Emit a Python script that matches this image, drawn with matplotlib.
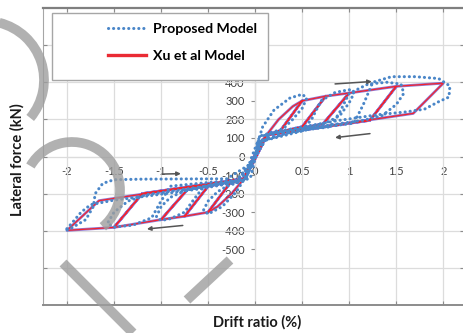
import numpy as np
import matplotlib
matplotlib.use('Agg')
import matplotlib.pyplot as plt
from matplotlib.patches import Arc, Rectangle

plt.rcParams['font.family'] = ['Lato', 'DejaVu Sans']

# Xu et al model, one list per cycle (drift %, force kN)
xu_d1 = [0, 0.05, 0.12, 0.25, 0.4, 0.5, 0.27, 0.12, 0.03, -0.05, -0.12, -0.25, -0.4, -0.5, -0.27, -0.12, -0.03, 0.05, 0.12]
xu_f1 = [0, 70, 115, 200, 270, 300, 140, 115, 40, -40, -120, -200, -270, -300, -145, -120, -40, 40, 115]
xu_d2 = [0.12, 0.27, 0.5, 0.75, 0.5, 0.12, 0.03, -0.05, -0.12, -0.27, -0.5, -0.75, -0.5, -0.12, -0.03, 0.05, 0.12]
xu_f2 = [115, 140, 300, 325, 160, 115, 40, -40, -120, -145, -300, -322, -160, -120, -40, 40, 115]
xu_d3 = [0.12, 0.5, 0.75, 1.0, 0.72, 0.12, 0.03, -0.05, -0.12, -0.5, -0.75, -1.0, -0.72, -0.12, -0.03, 0.05, 0.12]
xu_f3 = [115, 160, 325, 342, 175, 115, 40, -40, -120, -160, -322, -340, -178, -120, -40, 40, 115]
xu_d4 = [0.12, 0.72, 1.0, 1.5, 1.22, 0.12, 0.03, -0.05, -0.12, -0.72, -1.0, -1.5, -1.2, -0.12, -0.03, 0.05, 0.12]
xu_f4 = [115, 175, 342, 378, 195, 115, 40, -40, -120, -178, -340, -382, -200, -120, -40, 40, 115]
xu_d5 = [0.12, 1.22, 1.5, 2.0, 1.68, 0.12, 0.03, -0.05, -0.12, -1.2, -1.5, -2.0, -1.66, -0.12, -0.03, 0.0]
xu_f5 = [115, 195, 378, 395, 232, 115, 40, -40, -120, -200, -382, -398, -238, -120, -40, 0]

# Proposed model, one list per cycle
pm_d1 = [0, 0.03, 0.08, 0.2, 0.37, 0.5, 0.55, 0.5, 0.4, 0.3, 0.15, 0.05, -0.05, -0.1, -0.2, -0.35, -0.5, -0.55, -0.5, -0.4, -0.3, -0.15, -0.05, 0.02]
pm_f1 = [0, 80, 160, 250, 315, 335, 315, 260, 200, 150, 125, 110, -20, -110, -190, -270, -310, -290, -240, -190, -160, -135, -115, 30]
pm_d2 = [0.05, 0.3, 0.5, 0.6, 0.7, 0.85, 1.0, 1.05, 1.0, 0.9, 0.75, 0.5, 0.25, 0.1, -0.05, -0.15, -0.35, -0.55, -0.65, -0.75, -0.9, -1.0, -1.05, -1.0, -0.9, -0.75, -0.5, -0.25, -0.1, 0.02]
pm_f2 = [80, 125, 140, 200, 300, 345, 360, 340, 290, 220, 180, 150, 130, 115, -40, -125, -145, -165, -230, -300, -335, -345, -325, -270, -220, -185, -155, -135, -120, 30]
pm_d3 = [0.05, 0.4, 0.8, 0.9, 1.0, 1.2, 1.4, 1.55, 1.58, 1.5, 1.35, 1.15, 0.8, 0.4, 0.15, -0.05, -0.2, -0.5, -0.9, -1.0, -1.1, -1.3, -1.5, -1.57, -1.5, -1.35, -1.15, -0.8, -0.4, -0.1, 0.02]
pm_f3 = [80, 135, 160, 240, 340, 390, 400, 390, 340, 280, 220, 195, 170, 140, 120, -40, -130, -140, -160, -240, -330, -370, -380, -360, -300, -240, -205, -180, -150, -125, 30]
pm_d4 = [0.05, 0.6, 1.05, 1.15, 1.25, 1.45, 1.7, 1.95, 2.07, 2.06, 1.95, 1.8, 1.6, 1.3, 0.9, 0.4, 0.15, -0.05, -0.3, -0.8, -1.2, -1.5, -1.62, -1.7, -1.72, -1.8, -1.95, -2.02, -1.95, -1.85, -1.75, -1.5, -1.1, -0.6, -0.2, 0.0]
pm_f4 = [80, 150, 180, 280, 400, 430, 430, 420, 380, 320, 295, 255, 240, 225, 195, 150, 125, -40, -120, -121, -122, -125, -145, -200, -270, -340, -385, -400, -360, -300, -260, -235, -210, -175, -140, 0]

x_ticks = [-2, -1.5, -1, -0.5, 0, 0.5, 1, 1.5, 2]
x_labels = ['-2', '-1.5', '-1', '-0.5', '0', '0.5', '1', '1.5', '2']
y_ticks = [-500, -400, -300, -200, -100, 0, 100, 200, 300, 400]
frame_y = [-600, -400, -200, 0, 200, 400, 600]

xu_d = xu_d1 + xu_d2 + xu_d3 + xu_d4 + xu_d5
xu_f = xu_f1 + xu_f2 + xu_f3 + xu_f4 + xu_f5
pm_d = pm_d1 + pm_d2 + pm_d3 + pm_d4
pm_f = pm_f1 + pm_f2 + pm_f3 + pm_f4

W, H = 463, 333
fig = plt.figure(figsize=(W / 100, H / 100), dpi=100)
rect = [43 / W, 1 - 305 / H, (464 - 43) / W, (305 - 8) / H]

# inner excel-style axes crossing at origin
ax2 = fig.add_axes(rect, zorder=0)
ax2.set_xlim(-2.255, 2.22)
ax2.set_ylim(-800, 800)
for s in ['top', 'right']:
    ax2.spines[s].set_visible(False)
ax2.spines['left'].set_position(('data', 0))
ax2.spines['left'].set_bounds(-500, 400)
ax2.spines['left'].set_color('#8c8c8c')
ax2.spines['bottom'].set_position(('data', 0))
ax2.spines['bottom'].set_bounds(-2, 2)
ax2.spines['bottom'].set_color('#d0d0d0')
ax2.set_yticks(y_ticks)
ax2.set_yticklabels([str(v) for v in y_ticks])
ax2.set_xticks(x_ticks)
ax2.set_xticklabels(x_labels)
ax2.tick_params(axis='y', length=3, width=0.8, color='#8c8c8c', pad=4.5, labelsize=8, labelcolor='#404040')
ax2.tick_params(axis='x', length=0, pad=7, labelsize=8, labelcolor='#404040')

# outer frame with grid and data
ax = fig.add_axes(rect, zorder=1)
ax.patch.set_alpha(0)
ax.set_xlim(-2.255, 2.22)
ax.set_ylim(-800, 800)
ax.set_xticks(x_ticks)
ax.set_yticks(frame_y)
ax.grid(True, color='#dcdcdc', linewidth=0.9)
ax.tick_params(direction='in', top=True, right=True, length=3, width=0.8, color='#8c8c8c',
               labelbottom=False, labelleft=False)
ax.spines['top'].set_linewidth(1.6)
ax.spines['top'].set_color('#7f7f7f')
ax.spines['left'].set_color('#a6a6a6')
ax.spines['bottom'].set_linewidth(1.4)
ax.spines['bottom'].set_color('#8c8c8c')
ax.spines['right'].set_color('#a6a6a6')

ax.plot(xu_d, xu_f, color='#6a4fc8', linewidth=2.0, alpha=0.75, zorder=2)
ax.plot(xu_d, xu_f, color='#ff1a1a', linewidth=0.9, alpha=0.9, zorder=3, label='Xu et al Model')
ax.plot(pm_d, pm_f, color='#4a86c8', linewidth=2.2, linestyle=(0, (0.05, 1.6)),
        dash_capstyle='round', zorder=4, label='Proposed Model')

# direction arrows
arr = dict(arrowstyle='-|>', color='#555555', lw=1.1, mutation_scale=6)
ax.annotate('', xy=(1.27, 405), xytext=(0.82, 390), arrowprops=arr, zorder=5)
ax.annotate('', xy=(0.82, 100), xytext=(1.25, 125), arrowprops=arr, zorder=5)
ax.annotate('', xy=(-0.76, -92), xytext=(-1.02, -95), arrowprops=arr, zorder=5)
ax.annotate('', xy=(-1.18, -392), xytext=(-0.74, -370), arrowprops=arr, zorder=5)

# legend box
ax.add_patch(Rectangle((52 / W, 1 - 80 / H), 216 / W, 67 / H, transform=fig.transFigure,
                       facecolor='white', edgecolor='#a6a6a6', linewidth=1.0, zorder=6, clip_on=False))
handles, labels = ax.get_legend_handles_labels()
leg = ax.legend(handles[::-1], labels[::-1], loc='upper left', bbox_to_anchor=(108 / W, 1 - 23 / H),
                bbox_transform=fig.transFigure, frameon=False, borderpad=0, borderaxespad=0,
                handlelength=2.65, handletextpad=0.55, labelspacing=1.05,
                prop={'weight': 'bold', 'size': 10.2})
leg.set_zorder(7)
leg.legend_handles[1].set_linewidth(2.4)
leg.legend_handles[1].set_color('#e8141e')

fig.text(17 / W, 1 - 160 / H, 'Lateral force (kN)', rotation=90, ha='center', va='center',
         fontsize=10.5, fontweight='bold', color='#1a1a1a')
fig.text(257 / W, 1 - 322 / H, 'Drift ratio (%)', ha='center', va='center',
         fontsize=10.5, fontweight='bold', color='#1a1a1a')

# grey watermark strokes over the picture
wm = fig.add_axes([0, 0, 1, 1], zorder=10)
wm.set_xlim(0, W)
wm.set_ylim(H, 0)
wm.axis('off')
wm.patch.set_alpha(0)
gray = '#9e9e9e'
wm.add_patch(Arc((-15, 80), 118, 118, theta1=-76, theta2=40, color=gray, lw=7, alpha=0.8))
wm.add_patch(Arc((72, 190), 96, 96, theta1=-150, theta2=50, color=gray, lw=7, alpha=0.8))
wm.plot([63, 133], [263, 333], color=gray, lw=7, alpha=0.8, solid_capstyle='butt')
wm.plot([187, 230], [300, 260], color=gray, lw=7, alpha=0.8, solid_capstyle='butt')

fig.savefig('out.png', dpi=100)
